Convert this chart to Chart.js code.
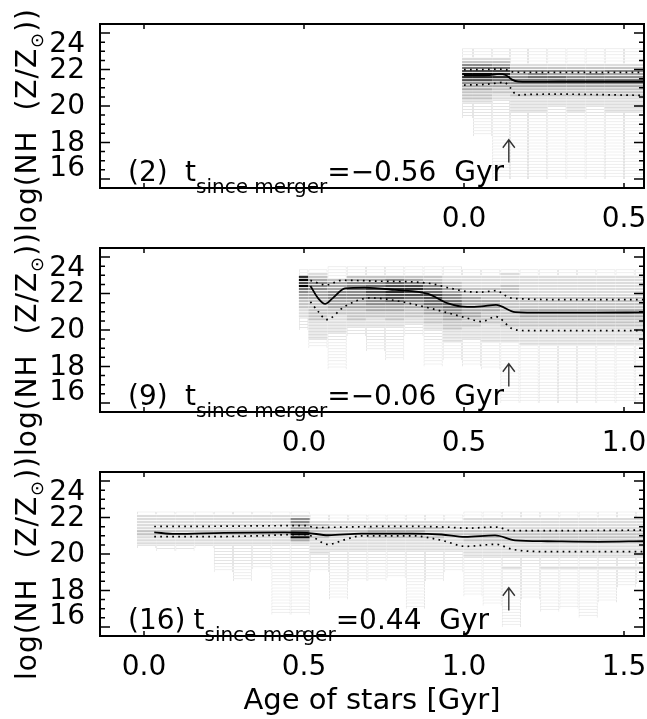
<html>
<head>
<script src="https://cdn.jsdelivr.net/npm/chart.js@4.4.1/dist/chart.umd.min.js"></script>
<style>
  body { margin: 0; background: #fff; }
  #page { position: relative; width: 647px; height: 719px; overflow: hidden; }
  #page canvas { position: absolute; left: 0; }
</style>
</head>
<body>
<div id="page">
  <canvas id="panel1" width="647" height="240" style="top:0px"></canvas>
  <canvas id="panel2" width="647" height="240" style="top:224px"></canvas>
  <canvas id="panel3" width="647" height="271" style="top:448px"></canvas>
</div>
<script>
// ---- data ----
// y bins of the 2D histogram: 48 rows of 1/6 dex from 24 down to 16
var yBinTop = 24, yBinSize = 1 / 6;
var yTickValues = [16, 18, 20, 22, 24];
var yTickLabels = ['16', '18', '20', '22', '24'];

var xRange1 = [-1.1375, 0.5625];
var xRange2 = [-0.6375, 1.0625];
var xRange3 = [-0.1375, 1.5625];
var xTicks1 = [0, 0.5];
var xTicks2 = [0, 0.5, 1.0];
var xTicks3 = [0, 0.5, 1.0, 1.5];

var panelLabels = ['(2)', '(9)', '(16)'];
var mergerTimes = ['\u22120.56', '\u22120.06', '0.44'];
var arrowX = [0.14, 0.64, 1.14];
var arrowSpan = [16.9, 18.15];

// histogram: column edges (Gyr) and, per column, darkness per y bin (top row first)
// 0 empty, 1 faint outline, 2..9 light grey .. black
var p1Edges = [-0.006, 0.028, 0.088, 0.144, 0.2, 0.26, 0.32, 0.38, 0.44, 0.5, 0.5625];
var p1Cells = [
  "0000011123567987544333211111",
  "0000011123567987544333211111111111",
  "0000011123467886543322" + "11111111111111111111111111",
  "0000011111" + "2354565433322222" + "1111111111111111111111",
  "0000011111" + "2355665433322222" + "1111111111111111111111",
  "0000011111" + "2354665433322211" + "1111111111111111111111",
  "0000011111" + "2354565433322222" + "1111111111111111111111",
  "0000011111" + "2345565433322211" + "1111111111111111111111",
  "0000011111" + "2354565433322222" + "1111111111111111111111",
  "0000011111" + "2354565433322222" + "1111111111111111111111"
];

var p2Edges = [-0.016, 0.0135, 0.0735, 0.1335, 0.1935, 0.2535, 0.3135, 0.3735, 0.4335, 0.4935,
  0.5535, 0.6135, 0.6735, 0.7335, 0.7935, 0.8535, 0.9135, 0.9735, 1.0335, 1.0625];
var p2Cells = [
  "000011897965443332221111",
  "000012345554443333333222222111",
  "0001111344455544433222222" + "111111111111",
  "00011134556555444333322111",
  "000111" + "34567766554433222" + "11111111",
  "000111" + "35678877654433322" + "11111111111",
  "000111" + "3457877654433322" + "1111",
  "000111" + "334566776654433322" + "111111111111",
  "000111" + "223344556665544333" + "2222" + "111111",
  "000011" + "2222333444444433322221" + "11111111",
  "000011" + "2222333344443333222222" + "111111111",
  "00001" + "2222333333333333332222" + "211111111111111111111",
  "000011" + "22222223333444333222222" + "1111111111111111111",
  "000011" + "22222223333444333222222" + "1111111111111111111",
  "000011" + "22222223333444333222222" + "1111111111111111111",
  "000011" + "22222223333444333222222" + "1111111111111111111",
  "000011" + "22222223333444333222222" + "1111111111111111111",
  "000011" + "22222223333444333222222" + "1111111111111111111",
  "000011" + "22222223333444333222222" + "1111111111111111111"
];

var p3Edges = [-0.022, 0.038, 0.098, 0.158, 0.218, 0.278, 0.338, 0.398, 0.458, 0.518, 0.578, 0.638,
  0.698, 0.758, 0.818, 0.878, 0.938, 0.998, 1.058, 1.118, 1.178, 1.238, 1.298, 1.358, 1.418, 1.478,
  1.538, 1.5625];
var p3Cells = [
  "00000000001" + "2222233222" + "1",
  "00000000001" + "2222233222" + "11",
  "00000000001" + "2222233222" + "11",
  "00000000001" + "2222233222" + "1",
  "00000000001" + "2222233222" + "111111111",
  "00000000001" + "2222233222" + "111111111111",
  "00000000001" + "2222233222" + "11111111",
  "00000000001" + "2222233222" + "11111111111111111111111",
  "00000000001" + "2554469942" + "11111111111111111111111",
  "0000000000011" + "23333322222" + "111111",
  "0000000000011" + "2223322222" + "1111111111111111",
  "0000000000011" + "2223322222" + "1111111111",
  "0000000000011" + "2234432222" + "1111111111",
  "0000000000011" + "2234432222" + "111111111",
  "0000000000011" + "2234432222" + "1111111111111111111",
  "0000000000011" + "2233332222" + "1111111111",
  "0000000000011" + "2223322222" + "1111111",
  "000000000011" + "2222333322222" + "1111111111111",
  "000000000011" + "2222333322222" + "1111111111111111",
  "000000000011" + "2222333322222" + "1112" + "1111111111111111111",
  "000000000011" + "2222333322222" + "11111111111111",
  "000000000011" + "2222333322222" + "1112" + "11111111111111",
  "000000000011" + "2222333322222" + "1112" + "1111111111111",
  "000000000011" + "2222333322222" + "1112" + "1111111111111111",
  "000000000011" + "2222333322222" + "1112" + "11111111111",
  "000000000011" + "2222333322222" + "1112" + "111111",
  "000000000011" + "2222333322222" + "1112" + "11111"
];

// median and 16/84 percentile curves
var p1MedX = [0.0, 0.04, 0.08, 0.11, 0.13, 0.15, 0.17, 0.2, 0.3, 0.4, 0.5, 0.5625];
var p1Med  = [21.68, 21.68, 21.7, 21.76, 21.7, 21.45, 21.34, 21.32, 21.33, 21.33, 21.33, 21.33];
var p1UpX  = [0.0, 0.05, 0.1, 0.13, 0.15, 0.2, 0.3, 0.4, 0.5, 0.5625];
var p1Up   = [22.0, 22.0, 22.02, 22.0, 21.87, 21.85, 21.85, 21.85, 21.85, 21.85];
var p1LoX  = [0.0, 0.05, 0.1, 0.125, 0.145, 0.165, 0.2, 0.3, 0.4, 0.5, 0.5625];
var p1Lo   = [21.15, 21.17, 21.25, 21.3, 21.0, 20.6, 20.63, 20.65, 20.63, 20.6, 20.58];

var p2MedX = [0.02, 0.045, 0.066, 0.09, 0.128, 0.19, 0.284, 0.388, 0.45, 0.51, 0.555, 0.60, 0.66, 0.75, 0.9, 1.0625];
var p2Med  = [22.42, 21.72, 21.43, 21.75, 22.28, 22.33, 22.2, 21.98, 21.46, 21.27, 21.3, 21.38, 20.98, 20.95, 20.95, 20.97];
var p2UpX  = [0.02, 0.07, 0.118, 0.232, 0.388, 0.46, 0.51, 0.555, 0.60, 0.64, 0.68, 0.8, 1.0625];
var p2Up   = [22.72, 22.47, 22.73, 22.68, 22.57, 22.28, 22.11, 22.08, 22.16, 21.79, 21.71, 21.67, 21.67];
var p2LoX  = [0.02, 0.045, 0.07, 0.128, 0.206, 0.284, 0.388, 0.46, 0.51, 0.555, 0.60, 0.65, 0.69, 0.8, 1.0625];
var p2Lo   = [21.55, 21.0, 20.57, 21.3, 21.76, 21.62, 21.22, 20.89, 20.65, 20.46, 20.73, 20.08, 19.97, 19.97, 19.97];

var p3MedX = [0.032, 0.097, 0.25, 0.44, 0.51, 0.576, 0.68, 0.837, 0.93, 1.003, 1.097, 1.16, 1.26, 1.42, 1.5625];
var p3Med  = [21.19, 21.1, 21.16, 21.19, 21.16, 21.03, 21.12, 21.12, 21.07, 20.94, 21.02, 20.75, 20.7, 20.67, 20.7];
var p3UpX  = [0.032, 0.2, 0.4, 0.51, 0.53, 0.63, 0.78, 0.94, 1.01, 1.1, 1.15, 1.26, 1.5625];
var p3Up   = [21.51, 21.52, 21.55, 21.56, 21.45, 21.48, 21.52, 21.48, 21.42, 21.48, 21.28, 21.28, 21.31];
var p3LoX  = [0.032, 0.2, 0.36, 0.48, 0.51, 0.576, 0.63, 0.68, 0.837, 0.93, 1.005, 1.1, 1.15, 1.26, 1.5625];
var p3Lo   = [20.95, 20.95, 21.0, 21.07, 21.05, 20.53, 20.8, 21.0, 21.0, 20.75, 20.42, 20.53, 20.26, 20.13, 20.13];

// ---- drawing ----
var FONT = "'DejaVu Sans', 'Liberation Sans', sans-serif";
var FS = 28;
Chart.defaults.font.family = FONT;
Chart.defaults.color = '#000';

var greys = { 2: '#dcdcdc', 3: '#c4c4c4', 4: '#a8a8a8', 5: '#8c8c8c', 6: '#6e6e6e', 7: '#4e4e4e', 8: '#2c2c2c', 9: '#050505' };

function cellSets(edges, cols) {
  var fill = [], fillCol = [], box = [];
  cols.forEach(function (col, k) {
    for (var i = 0; i < col.length; i++) {
      var lev = +col[i];
      if (!lev) continue;
      var cell = { x: [edges[k], edges[k + 1]], y: yBinTop - (i + 0.5) * yBinSize };
      if (lev === 1) box.push(cell);
      else { fill.push(cell); fillCol.push(greys[lev]); }
    }
  });
  return [
    { type: 'bar', indexAxis: 'y', data: fill, backgroundColor: fillCol, borderWidth: 0,
      barPercentage: 0.72, categoryPercentage: 1, grouped: false, inflateAmount: 0,
      order: 2, xAxisID: 'x', yAxisID: 'y' },
    { type: 'bar', indexAxis: 'y', data: box, backgroundColor: '#ffffff', borderColor: '#e4e4e4',
      borderWidth: { top: 1, left: 1, right: 1, bottom: 0 }, borderSkipped: false,
      barPercentage: 1, categoryPercentage: 1, grouped: false, inflateAmount: 0,
      order: 3, xAxisID: 'x', yAxisID: 'y' }
  ];
}

function curve(xs, ys, dotted) {
  return {
    type: 'line',
    data: xs.map(function (x, i) { return { x: x, y: ys[i] }; }),
    borderColor: '#000',
    borderWidth: dotted ? 1.7 : 1.8,
    borderDash: dotted ? [1.7, 4.3] : [],
    pointRadius: 0,
    cubicInterpolationMode: 'monotone',
    fill: false,
    order: 0, xAxisID: 'x', yAxisID: 'y'
  };
}

function drawPieces(ctx, x, y, pieces) {
  pieces.forEach(function (p) {
    ctx.font = p[1] + 'px ' + FONT;
    ctx.fillText(p[0], x, y + p[2]);
    x += ctx.measureText(p[0]).width;
  });
}

var decor = {
  id: 'decor',
  afterDatasetsDraw: function (chart, args, o) {
    var ctx = chart.ctx, a = chart.chartArea, sx = chart.scales.x, sy = chart.scales.y;
    ctx.save();
    // inward tick marks
    ctx.strokeStyle = '#000';
    ctx.lineWidth = 1.5;
    ctx.beginPath();
    for (var v = 16; v <= 24; v += 0.5) {
      var py = sy.getPixelForValue(v);
      var len = (v % 2 === 0) ? 10 : 5;
      ctx.moveTo(a.left, py); ctx.lineTo(a.left + len, py);
      ctx.moveTo(a.right, py); ctx.lineTo(a.right - len, py);
    }
    for (var t = Math.ceil(sx.min / 0.5) * 0.5; t <= sx.max; t += 0.5) {
      var px = sx.getPixelForValue(t);
      ctx.moveTo(px, a.bottom); ctx.lineTo(px, a.bottom - 5);
      ctx.moveTo(px, a.top); ctx.lineTo(px, a.top + 5);
    }
    ctx.stroke();
    ctx.lineWidth = 2;
    ctx.strokeRect(a.left, a.top, a.right - a.left, a.bottom - a.top);

    // y tick labels; the end labels sit just inside the frame, as in the original plot
    ctx.fillStyle = '#000';
    ctx.font = FS + 'px ' + FONT;
    ctx.textAlign = 'right';
    ctx.textBaseline = 'middle';
    yTickValues.forEach(function (v, i) {
      var py = sy.getPixelForValue(v);
      if (i === 0) py -= 11;
      if (i === yTickValues.length - 1) py += 11;
      ctx.fillText(yTickLabels[i], a.left - 15, py + 1);
    });

    // arrow at the merger time
    var ax = sx.getPixelForValue(o.arrowX);
    var ay0 = sy.getPixelForValue(arrowSpan[0]), ay1 = sy.getPixelForValue(arrowSpan[1]);
    ctx.strokeStyle = '#333';
    ctx.lineWidth = 1.4;
    ctx.beginPath();
    ctx.moveTo(ax, ay0); ctx.lineTo(ax, ay1);
    ctx.moveTo(ax - 6, ay1 + 8); ctx.lineTo(ax, ay1); ctx.lineTo(ax + 6, ay1 + 8);
    ctx.stroke();

    // panel annotation
    ctx.textBaseline = 'alphabetic';
    ctx.textAlign = 'left';
    var by = a.bottom - 7;
    ctx.font = FS + 'px ' + FONT;
    var lx = a.left + 28;
    ctx.fillText(o.label, lx, by);
    var tx = Math.max(a.left + 85, lx + ctx.measureText(o.label).width + 8);
    drawPieces(ctx, tx, by, [
      ['t', FS, 0], ['since merger', 20, 12], ['=' + o.tval + '  Gyr', FS, 0]
    ]);

    // rotated y title with subscript sun symbol
    var pieces = [['log(NH  (Z/Z', FS, 0], ['\u2299', 18, 7], ['))', FS, 0]];
    ctx.letterSpacing = '1px';
    var w = 0;
    pieces.forEach(function (p) { ctx.font = p[1] + 'px ' + FONT; w += ctx.measureText(p[0]).width; });
    ctx.translate(36, (a.top + a.bottom) / 2 + 14);
    ctx.rotate(-Math.PI / 2);
    drawPieces(ctx, -w / 2, 0, pieces);
    ctx.letterSpacing = '0px';
    ctx.restore();
  }
};

function makePanel(id, range, xTicks, edges, cells, lines, k, showTitle) {
  var canvas = document.getElementById(id);
  var plotBottom = 188;
  return new Chart(canvas, {
    type: 'line',
    data: { datasets: lines.concat(cellSets(edges, cells)) },
    options: {
      responsive: false,
      animation: false,
      events: [],
      layout: { padding: { top: 24, right: 3, left: 100, bottom: 0 } },
      plugins: {
        legend: { display: false },
        tooltip: { enabled: false },
        decor: { label: panelLabels[k], tval: mergerTimes[k], arrowX: arrowX[k] }
      },
      scales: {
        x: {
          type: 'linear', position: 'bottom', min: range[0], max: range[1],
          afterBuildTicks: function (s) { s.ticks = xTicks.map(function (v) { return { value: v }; }); },
          afterFit: function (s) {
            s.height = canvas.height - plotBottom;
            s.paddingLeft = 0; s.paddingRight = 0; s.paddingTop = 0; s.paddingBottom = 0;
          },
          ticks: {
            callback: function (v) { return v.toFixed(1); },
            font: { size: FS }, color: '#000', padding: 15, maxRotation: 0, minRotation: 0, autoSkip: false
          },
          grid: { display: false, drawTicks: false },
          border: { display: false },
          title: { display: showTitle, text: 'Age of stars [Gyr]', font: { size: 29 }, color: '#000', padding: 0 }
        },
        y: { type: 'linear', min: 16, max: 24, display: false }
      }
    },
    plugins: [decor]
  });
}

makePanel('panel1', xRange1, xTicks1, p1Edges, p1Cells,
  [curve(p1MedX, p1Med, false), curve(p1UpX, p1Up, true), curve(p1LoX, p1Lo, true)], 0, false);
makePanel('panel2', xRange2, xTicks2, p2Edges, p2Cells,
  [curve(p2MedX, p2Med, false), curve(p2UpX, p2Up, true), curve(p2LoX, p2Lo, true)], 1, false);
makePanel('panel3', xRange3, xTicks3, p3Edges, p3Cells,
  [curve(p3MedX, p3Med, false), curve(p3UpX, p3Up, true), curve(p3LoX, p3Lo, true)], 2, true);
</script>
</body>
</html>
